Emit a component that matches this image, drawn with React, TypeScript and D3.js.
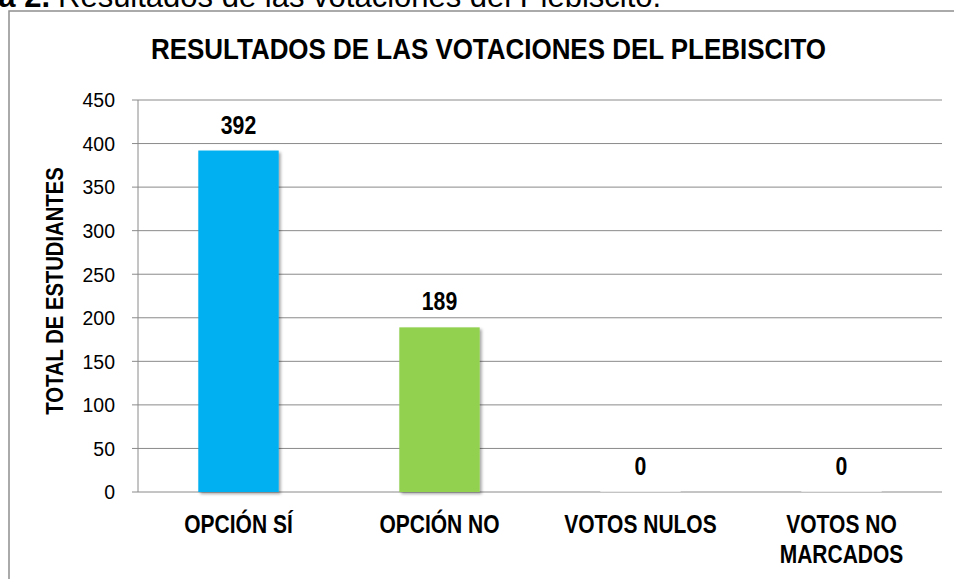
import React from "react";
import * as d3 from "d3";

const categories: string[][] = [["OPCIÓN SÍ"], ["OPCIÓN NO"], ["VOTOS NULOS"], ["VOTOS NO", "MARCADOS"]];
const values: number[] = [392, 189, 0, 0];
const barColors: string[] = ["#00B0F0", "#92D050", "#F2F2F2", "#F2F2F2"];
const yTicks: number[] = [0, 50, 100, 150, 200, 250, 300, 350, 400, 450];
const chartTitle = "RESULTADOS DE LAS VOTACIONES DEL PLEBISCITO";
const yAxisTitle = "TOTAL DE ESTUDIANTES";
const captionBold = "Gráfica 2.";
const captionText = "Resultados de las votaciones del Plebiscito.";

const W = 954;
const H = 579;
const plot = { left: 138, right: 942, top: 100, bottom: 492 };
const FONT = "'Liberation Sans', Arial, 'DejaVu Sans', sans-serif";

export default function App() {
  const keys = categories.map((c) => c.join(" "));
  const x = d3
    .scaleBand<string>()
    .domain(keys)
    .range([plot.left, plot.right])
    .paddingInner(0.6)
    .paddingOuter(0.3);
  const y = d3.scaleLinear().domain([0, 450]).range([plot.bottom, plot.top]);
  const narrow = 0.84;

  return (
    <svg
      width={W}
      height={H}
      viewBox={`0 0 ${W} ${H}`}
      style={{ position: "absolute", left: 0, top: 0, background: "#fff" }}
    >
      <defs>
        <filter id="shadow" x="-20%" y="-20%" width="140%" height="140%">
          <feDropShadow dx="2" dy="2" stdDeviation="1.8" floodColor="#000" floodOpacity="0.35" />
        </filter>
      </defs>
      <rect x={0} y={0} width={W} height={H} fill="#fff" />

      {/* caption above the frame (cut off at the top edge, as in the reference) */}
      <text y={7} fontFamily={FONT} fontSize={31} fill="#000">
        <tspan fontWeight="bold" textAnchor="end" x={50}>{captionBold}</tspan>
      </text>
      <text x={58} y={7} fontFamily={FONT} fontSize={31} fill="#000">
        {captionText}
      </text>

      {/* frame */}
      <rect x={9} y={11} width={W + 20} height={H + 20} fill="none" stroke="#8f8f8f" strokeWidth={1.5} />

      {/* title */}
      <text
        transform={`translate(${(147 + 830) / 2},59) scale(0.88,1)`}
        textAnchor="middle"
        fontFamily={FONT}
        fontWeight="bold"
        fontSize={29.5}
        fill="#000"
      >
        {chartTitle}
      </text>

      {/* gridlines and ticks */}
      {yTicks.map((t) => (
        <g key={t}>
          <line x1={plot.left - 6} x2={plot.right} y1={y(t)} y2={y(t)} stroke="#8a8a8a" strokeWidth={1} />
          <text
            transform={`translate(115,${y(t)}) scale(0.95,1)`}
            dy="0.36em"
            textAnchor="end"
            fontFamily={FONT}
            fontSize={20.5}
            fill="#000"
          >
            {t}
          </text>
        </g>
      ))}
      <line x1={plot.left} x2={plot.left} y1={plot.top} y2={plot.bottom} stroke="#8a8a8a" strokeWidth={1} />

      {/* y axis title */}
      <text
        transform={`translate(63,${(162 + 420) / 2}) rotate(-90) scale(0.88,1)`}
        textAnchor="middle"
        fontFamily={FONT}
        fontWeight="bold"
        fontSize={23}
        fill="#000"
      >
        {yAxisTitle}
      </text>

      {/* bars */}
      {values.map((v, i) => {
        const bx = x(keys[i]) as number;
        const bw = x.bandwidth();
        const top = y(v);
        const h = Math.max(plot.bottom - top, 1);
        return (
          <g key={keys[i]}>
            <rect
              x={bx}
              y={plot.bottom - h}
              width={bw}
              height={h}
              fill={barColors[i]}
              filter={v > 0 ? "url(#shadow)" : undefined}
              opacity={v > 0 ? 1 : 0.8}
            />
            <text
              transform={`translate(${bx + bw / 2},${top - 17}) scale(0.85,1)`}
              textAnchor="middle"
              fontFamily={FONT}
              fontWeight="bold"
              fontSize={25}
              fill="#000"
            >
              {v}
            </text>
          </g>
        );
      })}

      {/* category labels */}
      {categories.map((lines, i) => {
        const cx = (x(keys[i]) as number) + x.bandwidth() / 2;
        return lines.map((ln, j) => (
          <text
            key={`${i}-${j}`}
            transform={`translate(${cx},${533 + j * 30}) scale(${narrow},1)`}
            textAnchor="middle"
            fontFamily={FONT}
            fontWeight="bold"
            fontSize={25}
            fill="#000"
          >
            {ln}
          </text>
        ));
      })}
    </svg>
  );
}
